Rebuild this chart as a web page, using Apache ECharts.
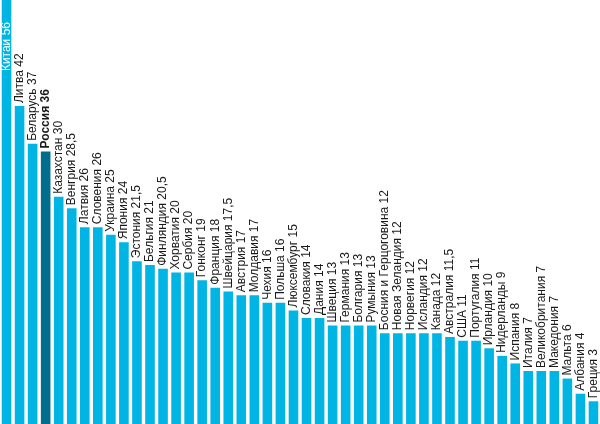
<!DOCTYPE html>
<html>
<head>
<meta charset="utf-8">
<script src="https://cdn.jsdelivr.net/npm/echarts@6/dist/echarts.min.js"></script>
<style>
html,body{margin:0;padding:0;background:#fff;}
#c{width:600px;height:424px;}
</style>
</head>
<body>
<div id="c"></div>
<script>
var categories = ["Китай","Литва","Беларусь","Россия","Казахстан","Венгрия","Латвия","Словения","Украина","Япония","Эстония","Бельгия","Финляндия","Хорватия","Сербия","Гонконг","Франция","Швейцария","Австрия","Молдавия","Чехия","Польша","Люксембург","Словакия","Дания","Швеция","Германия","Болгария","Румыния","Босния и Герцоговина","Новая Зеландия","Норвегия","Исландия","Канада","Австралия","США","Португалия","Ирландия","Нидерланды","Испания","Италия","Великобритания","Македония","Мальта","Албания","Греция"];
var values = [56,42,37,36,30,28.5,26,26,25,24,21.5,21,20.5,20,20,19,18,17.5,17,17,16,16,15,14,14,13,13,13,13,12,12,12,12,12,11.5,11,11,10,9,8,7,7,7,6,4,3];
var highlight = "Россия";
var insideLabel = "Китай";

var FONT = '"Liberation Sans Narrow","Arial Narrow","Liberation Sans",sans-serif';
function fmt(name, v){ return name + ' ' + String(v).replace('.', ','); }

var data = categories.map(function(c, i){
  var item = {value: values[i]};
  if (c === highlight) {
    item.itemStyle = {color: '#006d8c'};
    item.label = {fontWeight: 'bold'};
  }
  if (c === insideLabel) {
    item.label = {position: 'insideTop', distance: 22, align: 'right', color: '#ffffff'};
  }
  return item;
});

var chart = echarts.init(document.getElementById('c'), null, {renderer: 'canvas'});
chart.setOption({
  animation: false,
  grid: {left: -2, right: -2, top: 0, bottom: 0, containLabel: false},
  xAxis: {type: 'category', data: categories, show: false},
  yAxis: {type: 'value', min: 0, max: 56, show: false},
  series: [{
    type: 'bar',
    data: data,
    barWidth: 9.6,
    itemStyle: {color: '#00b4e4'},
    label: {
      show: true,
      position: 'top',
      distance: 3,
      rotate: 90,
      align: 'left',
      verticalAlign: 'middle',
      color: '#1a1a1a',
      fontFamily: FONT,
      fontSize: 12,
      formatter: function(p){ return fmt(p.name, p.value); }
    }
  }]
});
</script>
</body>
</html>
